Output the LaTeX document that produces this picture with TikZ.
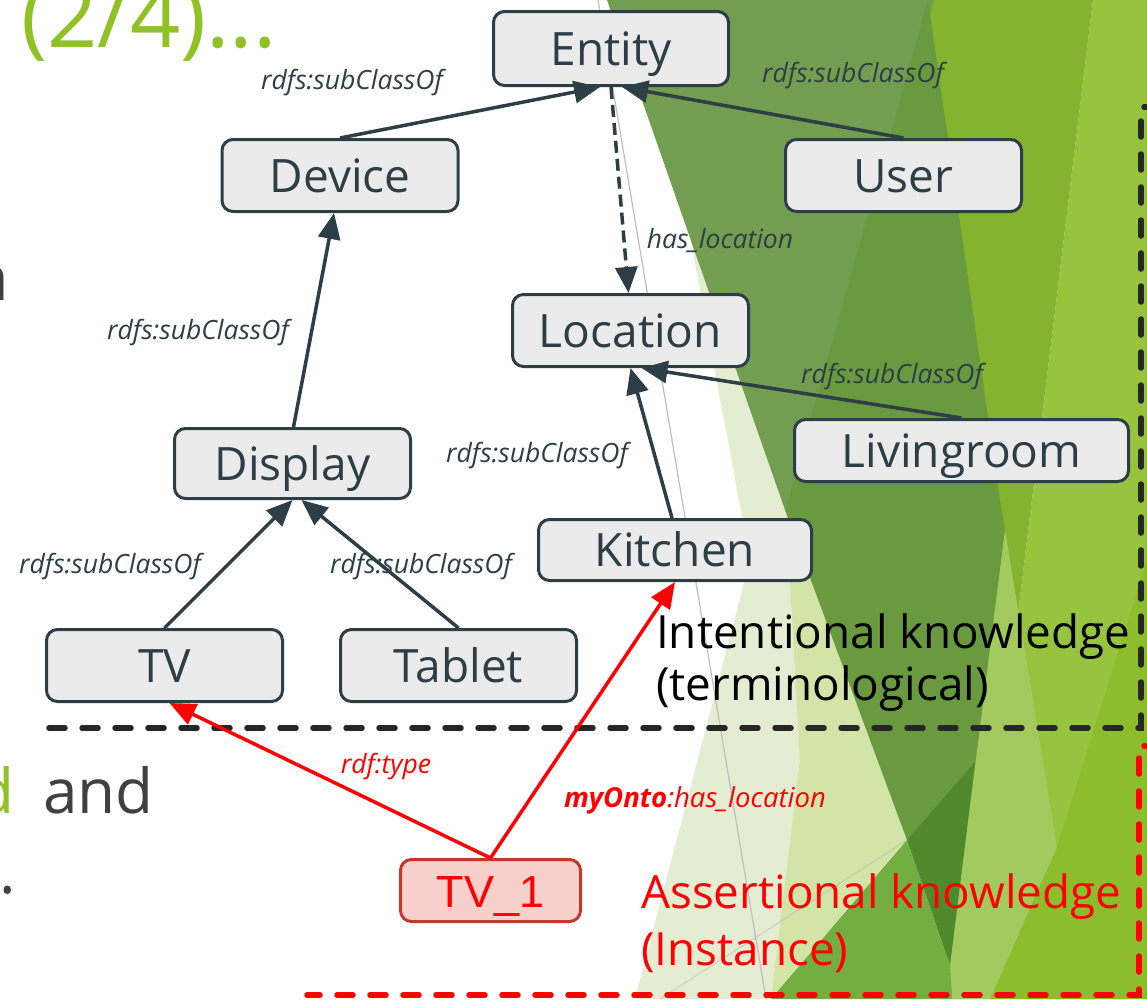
\documentclass[tikz,border=0pt]{standalone}
\usepackage{fontspec}
\setmainfont{Open Sans}
\newfontfamily\tvfont{Liberation Sans}
\usetikzlibrary{arrows.meta,calc}
\definecolor{slate}{HTML}{2E3E46}
\definecolor{boxfill}{HTML}{EBEBEB}
\definecolor{titlegreen}{HTML}{90C226}
\definecolor{bodygray}{HTML}{404040}
\definecolor{tvfill}{HTML}{F7D0CB}
\definecolor{tvborder}{HTML}{C0392B}
\definecolor{bgA}{HTML}{97C43E}
\definecolor{bgB}{HTML}{84B32F}
\definecolor{bgC}{HTML}{E4EDD2}
\definecolor{bgD}{HTML}{D3E4A9}
\definecolor{bgE}{HTML}{739D51}
\definecolor{bgF}{HTML}{6A9A40}
\definecolor{bgG}{HTML}{50892B}
\definecolor{bgH}{HTML}{72AE41}
\definecolor{bgI}{HTML}{A2CA5E}
\definecolor{bgJ}{HTML}{8CBD2C}
\tikzset{
  cls/.style={draw=slate, fill=boxfill, line width=3pt, rounded corners=11pt,
    inner sep=0pt, text=slate, font=\fontsize{46}{50}\selectfont,
    text height=33pt, text depth=0pt},
  lab/.style={inner sep=0pt, text=slate, font=\fontsize{26.5}{28}\selectfont\itshape},
  sub/.style={draw=slate, line width=3.5pt, -{Triangle[length=26pt,width=22pt]}},
  dsub/.style={sub, dash pattern=on 12pt off 6pt},
  rsub/.style={draw=red, line width=3.5pt, -{Triangle[length=26pt,width=22pt]}},
  region/.style={line width=5.5pt, line cap=round, dash pattern=on 16pt off 17pt},
  bigtxt/.style={inner sep=0pt, anchor=base west, font=\fontsize{45.8}{50}\selectfont},
}
\begin{document}
\begin{tikzpicture}[x=1pt,y=-1pt]
\useasboundingbox (0,0) rectangle (1147,999);
\fill[white] (0,0) rectangle (1147,999);
% background facets
\fill[bgA] (1093,0) -- (1147,0) -- (1147,999) -- (971,999) -- cycle;
\fill[bgB] (900,0) -- (1093,0) -- (971,999) -- (940,999) -- cycle;
\fill[bgJ] (1147,560) -- (1147,999) -- (990,999) -- (1057,847) -- cycle;
\fill[bgC] (688,225) -- (786,510) -- (907,840) -- (771,999) -- (635,999) -- (750,560) -- cycle;
\fill[bgD] (786,510) -- (907,840) -- (771,999) -- (800,760) -- cycle;
\fill[bgE] (607,0) -- (934,0) -- (785,510) -- cycle;
\fill[bgF] (928,0) -- (1000,500) -- (1005,530) -- (950,965) -- (907,840) -- (785,510) -- cycle;
\fill[bgI] (1005,530) -- (1057,847) -- (990,999) -- (952,999) -- (950,965) -- cycle;
\fill[bgG] (907,840) -- (975,762) -- (950,965) -- cycle;
\fill[bgH] (771,999) -- (907,840) -- (950,965) -- (952,999) -- cycle;
\draw[black!25, line width=1.2pt] (598,0) -- (766,999);
\draw[black!30, opacity=0.5, line width=1pt] (660,999) -- (907,840);

% slide text fragments
\node[inner sep=0pt, anchor=base east, text=titlegreen, font=\fontsize{88}{90}\selectfont] (title) at (277,47) {(2/4)...};
\node[inner sep=0pt, anchor=base east, text=bodygray, font=\fontsize{62}{64}\selectfont] (fraga) at (9,300) {a};
\node[inner sep=0pt, anchor=base east, text=titlegreen, font=\fontsize{62}{64}\selectfont] (fragd) at (15,813) {d};
\node[inner sep=0pt, anchor=base west, text=bodygray, font=\fontsize{62}{64}\selectfont] (fragand) at (43,813) {and};
\node[inner sep=0pt, anchor=base west, text=bodygray, font=\fontsize{62}{64}\selectfont] (fragdot) at (-1,893) {.};

% region borders
\draw[region, draw=black!85] (1160,107) -- (1141,107) -- (1141,728) -- (43,728);
\draw[region, draw=red] (1160,746) -- (1139,746) -- (1139,995) -- (307,995);

% class nodes
\node[cls, minimum width=235pt, minimum height=74pt] (entity) at (611,48.5) {Entity};
\node[cls, minimum width=236pt, minimum height=72pt] (device) at (340,175.5) {Device};
\node[cls, minimum width=236pt, minimum height=72pt] (user) at (903.5,175.5) {User};
\node[cls, minimum width=236pt, minimum height=72pt] (location) at (630.5,330.5) {Location};
\node[cls, minimum width=334pt, minimum height=62pt] (living) at (961.5,450.5) {Livingroom};
\node[cls, minimum width=236pt, minimum height=70pt] (display) at (292.5,463.5) {Display};
\node[cls, minimum width=273pt, minimum height=61pt] (kitchen) at (675,550) {Kitchen};
\node[cls, minimum width=236pt, minimum height=72pt] (tv) at (164.5,665.5) {TV};
\node[cls, minimum width=236pt, minimum height=72pt] (tablet) at (458.5,665.5) {Tablet};
\node[cls, draw=tvborder, fill=tvfill, text=red, minimum width=180pt, minimum height=62pt,
      font=\tvfont\fontsize{45}{48}\selectfont] (tv1) at (490.5,890.5) {TV\_1};

% connectors
\draw[sub] (device.north) -- ($(entity.south)+(-11,0)$);
\draw[sub] (user.north) -- ($(entity.south)+(11,0)$);
\draw[dsub] (entity.south) -- ($(location.north)+(-2,0)$);
\draw[sub] ($(display.north)+(1,0)$) -- ($(device.south)+(-6,0)$);
\draw[sub] (living.north) -- ($(location.south)+(11,0)$);
\draw[sub] ($(kitchen.north)+(-3,0)$) -- (location.south);
\draw[sub] (tv.north) -- (display.south);
\draw[sub] (tablet.north) -- ($(display.south)+(9,0)$);
\draw[rsub] (tv1.north) -- ($(tv.south)+(5,0)$);
\draw[rsub] (tv1.north) -- (kitchen.south);

% edge labels
\node[lab] (l1) at (352,83) {rdfs:subClassOf};
\node[lab] (l2) at (853,76) {rdfs:subClassOf};
\node[lab] (l3) at (720,240) {has\_location};
\node[lab] (l4) at (198,333) {rdfs:subClassOf};
\node[lab] (l5) at (892,377) {rdfs:subClassOf};
\node[lab] (l6) at (537,456) {rdfs:subClassOf};
\node[lab] (l7) at (110,567) {rdfs:subClassOf};
\node[lab] (l8) at (421,567) {rdfs:subClassOf};
\node[lab, text=red] (l9) at (386,767) {rdf:type};
\node[lab, text=red, font=\fontsize{27.5}{29}\selectfont\itshape] (l10) at (695,800) {\textbf{myOnto}:has\_location};

% region captions
\node[bigtxt, text=black] (int1) at (656,648) {Intentional knowledge};
\node[bigtxt, text=black] (int2) at (656,700) {(terminological)};
\node[bigtxt, text=red] (ass1) at (641,908) {Assertional knowledge};
\node[bigtxt, text=red] (ass2) at (641,965) {(Instance)};
\end{tikzpicture}
\end{document}
